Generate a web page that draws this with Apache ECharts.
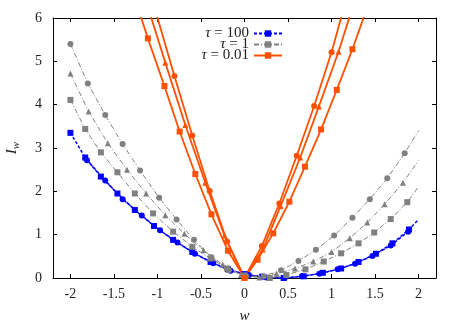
<!DOCTYPE html>
<html>
<head>
<meta charset="utf-8">
<script src="https://cdn.jsdelivr.net/npm/echarts@6/dist/echarts.min.js"></script>
<style>
  html, body { margin: 0; padding: 0; background: #fff; }
  #container { width: 463px; height: 325px; }
</style>
</head>
<body>
<div id="container"></div>
<script>
var xTicks = [-2, -1.5, -1, -0.5, 0, 0.5, 1, 1.5, 2];
var yTicks = [0, 1, 2, 3, 4, 5, 6];
var legendNames = ['τ = 100', 'τ = 1', 'τ = 0.01'];

// tau = 100 (blue)
var blueSquares = [[-2, 3.35], [-1.83, 2.78], [-1.65, 2.34], [-1.46, 1.95], [-1.26, 1.57], [-1.04, 1.20],
  [-0.82, 0.88], [-0.60, 0.60], [-0.39, 0.37], [-0.19, 0.20], [0, 0.09], [0.2, 0.03], [0.45, 0.0],
  [0.68, 0.04], [0.90, 0.12], [1.11, 0.22], [1.31, 0.37], [1.51, 0.56], [1.70, 0.80], [1.89, 1.12], [2.0, 1.35]];
var blueCircles = [[-1.81, 2.72], [-1.6, 2.25], [-1.4, 1.82], [-1.18, 1.44], [-0.97, 1.10], [-0.77, 0.82],
  [-0.57, 0.56], [-0.36, 0.34], [-0.16, 0.17], [0.05, 0.07], [0.25, 0.01], [0.46, 0.0], [0.66, 0.04],
  [0.86, 0.10], [1.07, 0.20], [1.27, 0.33], [1.47, 0.51], [1.68, 0.75], [1.88, 1.07]];

// tau = 1 (gray)
var graySquares = [[-2, 4.11], [-1.83, 3.44], [-1.65, 2.90], [-1.46, 2.44], [-1.26, 1.95], [-1.05, 1.49],
  [-0.82, 1.07], [-0.60, 0.72], [-0.39, 0.45], [-0.2, 0.22], [0, 0.06], [0.29, 0.0], [0.48, 0.07],
  [0.70, 0.20], [0.91, 0.38], [1.11, 0.57], [1.31, 0.80], [1.49, 1.05], [1.68, 1.36], [1.87, 1.75], [2.0, 2.11]];
var grayTriangles = [[-2, 4.72], [-1.79, 3.84], [-1.57, 3.11], [-1.35, 2.50], [-1.13, 1.95], [-0.91, 1.45],
  [-0.69, 1.02], [-0.47, 0.64], [-0.25, 0.31], [-0.04, 0.07], [0.17, 0.01], [0.37, 0.10], [0.58, 0.22],
  [0.79, 0.38], [1.0, 0.60], [1.21, 0.92], [1.41, 1.28], [1.61, 1.70], [1.82, 2.20], [2.0, 2.71]];
var grayCircles = [[-2, 5.40], [-1.8, 4.49], [-1.6, 3.76], [-1.4, 3.09], [-1.2, 2.48], [-0.98, 1.85],
  [-0.78, 1.35], [-0.58, 0.88], [-0.38, 0.48], [-0.18, 0.18], [0.02, 0.04], [0.22, 0.04], [0.42, 0.18],
  [0.62, 0.39], [0.82, 0.65], [1.03, 0.98], [1.24, 1.39], [1.44, 1.82], [1.64, 2.30], [1.84, 2.88], [2.0, 3.40]];

// tau = 0.01 (orange)
var orangeSquares = [[-1.25, 6.4], [-1.11, 5.53], [-0.92, 4.43], [-0.745, 3.38], [-0.565, 2.40], [-0.38, 1.47],
  [-0.19, 0.63], [0, 0], [0.15, 0.42], [0.33, 1.03], [0.515, 1.76], [0.695, 2.57], [0.88, 3.43],
  [1.06, 4.34], [1.24, 5.28], [1.42, 6.3]];
var orangeTriangles = [[-1.14, 6.45], [-0.91, 4.97], [-0.68, 3.53], [-0.45, 2.20], [-0.23, 0.98], [0, 0],
  [0.21, 0.66], [0.415, 1.66], [0.64, 2.78], [0.855, 3.96], [1.08, 5.22], [1.25, 6.3]];
var orangeCircles = [[-1.1, 6.7], [-0.805, 4.66], [-0.60, 3.29], [-0.40, 2.01], [-0.20, 0.84], [0, 0],
  [0.20, 0.74], [0.40, 1.72], [0.60, 2.82], [0.80, 3.97], [1.0, 5.21], [1.2, 6.66]];

var FONT = 'Liberation Serif';
var BLUE = '#0000ff', GRAY = '#808080', ORANGE = '#ff5000';

function pts(arr) {
  return arr.map(function (p) {
    if (p[1] > 5.9 || p[0] >= 1.99) return { value: p, symbol: 'none' };
    return p;
  });
}

function mk(name, arr, symbol, color, type, width, size) {
  return {
    name: name,
    type: 'line',
    data: pts(arr),
    symbol: symbol,
    symbolSize: size,
    showAllSymbol: true,
    clip: true,
    animation: false,
    itemStyle: { color: color },
    lineStyle: { color: color, width: width, type: type }
  };
}

var blueDash = [3, 2];
var grayDash = [5, 2, 1, 2];

var series = [
  mk(legendNames[0], blueSquares, 'rect', BLUE, blueDash, 1.5, 6),
  mk(legendNames[0], blueCircles, 'circle', BLUE, blueDash, 1.5, 6),
  mk(legendNames[1], graySquares, 'rect', GRAY, grayDash, 1, 6),
  mk(legendNames[1], grayTriangles, 'triangle', GRAY, grayDash, 1, 6),
  mk(legendNames[1], grayCircles, 'circle', GRAY, grayDash, 1, 6),
  mk(legendNames[2], orangeSquares, 'rect', ORANGE, 'solid', 1.8, 6),
  mk(legendNames[2], orangeTriangles, 'triangle', ORANGE, 'solid', 1.8, 6),
  mk(legendNames[2], orangeCircles, 'circle', ORANGE, 'solid', 1.8, 6)
];

function fmtX(v) {
  var r = Math.round(v * 10) / 10;
  return String(r);
}

var axisLine = { show: true, onZero: false, lineStyle: { color: '#000', width: 1 } };

var chart = echarts.init(document.getElementById('container'), null, { renderer: 'canvas' });
chart.setOption({
  backgroundColor: '#fff',
  animation: false,
  grid: { left: 53, right: 27, top: 18, bottom: 47, containLabel: false, outerBoundsMode: 'none' },
  legend: {
    data: legendNames,
    orient: 'vertical',
    align: 'right',
    right: 180,
    top: 26,
    padding: 0,
    itemWidth: 28,
    itemHeight: 8,
    itemGap: -4,
    selectedMode: false,
    formatter: function (n) { return n.replace('τ', '{i|τ}'); },
    textStyle: {
      fontFamily: FONT, fontSize: 15, color: '#222', lineHeight: 14,
      rich: { i: { fontFamily: FONT, fontSize: 15, fontStyle: 'italic', color: '#222', lineHeight: 14 } }
    }
  },
  xAxis: [{
    type: 'value', min: -2.2, max: 2.2, position: 'bottom',
    name: 'w', nameLocation: 'middle', nameGap: 31,
    nameTextStyle: { fontFamily: FONT, fontSize: 15, fontStyle: 'italic', color: '#222' },
    axisLine: axisLine,
    axisTick: { show: true, inside: true, length: 4, customValues: xTicks, lineStyle: { color: '#000' } },
    axisLabel: { customValues: xTicks, formatter: fmtX, fontFamily: FONT, fontSize: 14, color: '#222', margin: 9 },
    splitLine: { show: false }
  }, {
    type: 'value', min: -2.2, max: 2.2, position: 'top',
    axisLine: axisLine,
    axisTick: { show: true, inside: true, length: 4, customValues: xTicks, lineStyle: { color: '#000' } },
    axisLabel: { show: false },
    splitLine: { show: false }
  }],
  yAxis: [{
    type: 'value', min: 0, max: 6, interval: 1, position: 'left',
    name: '{i|I}{s|w}', nameLocation: 'middle', nameGap: 31, nameRotate: 90,
    nameTextStyle: {
      fontFamily: FONT, color: '#222',
      rich: {
        i: { fontFamily: FONT, fontSize: 15, fontStyle: 'italic', color: '#222' },
        s: { fontFamily: FONT, fontSize: 11, fontStyle: 'italic', color: '#222', padding: [8, 0, 0, 0] }
      }
    },
    axisLine: axisLine,
    axisTick: { show: true, inside: true, length: 4, lineStyle: { color: '#000' } },
    axisLabel: { fontFamily: FONT, fontSize: 14, color: '#222', margin: 11 },
    splitLine: { show: false }
  }, {
    type: 'value', min: 0, max: 6, interval: 1, position: 'right',
    axisLine: axisLine,
    axisTick: { show: true, inside: true, length: 4, lineStyle: { color: '#000' } },
    axisLabel: { show: false },
    splitLine: { show: false }
  }],
  series: series
});
</script>
</body>
</html>
